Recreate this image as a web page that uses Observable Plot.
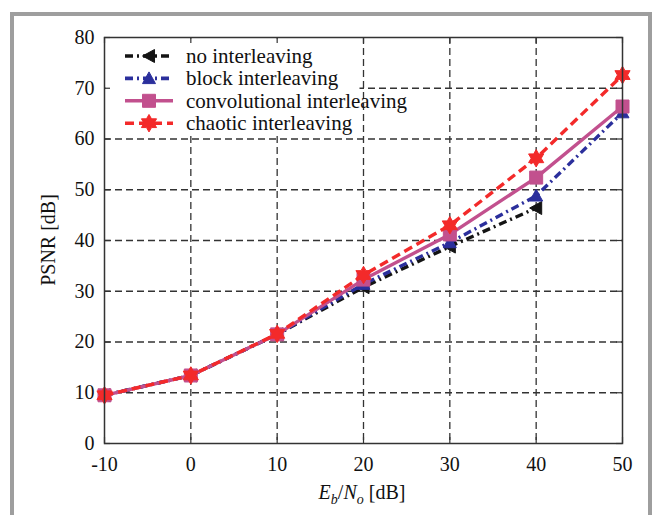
<!DOCTYPE html>
<html><head><meta charset="utf-8">
<script src="https://cdn.jsdelivr.net/npm/d3@7"></script>
<script src="https://cdn.jsdelivr.net/npm/@observablehq/plot@0.6"></script>
<style>
body{margin:0;background:#fff;}
#wrap{position:relative;width:652px;height:515px;overflow:hidden;}
#border{position:absolute;left:10px;top:12px;width:634px;height:520px;border:4px solid #9e9e9e;pointer-events:none;}
svg{display:block;}
</style></head><body><div id="wrap"></div>
<script>
// ---- data ----
const ebno = [-10, 0, 10, 20, 30, 40, 50];
const noInterleaving = [9.5, 13.4, 21.5, 30.8, 38.8, 46.4, null];
const blockInterleaving = [9.5, 13.4, 21.5, 31.4, 39.6, 48.8, 65.2];
const convInterleaving = [9.5, 13.4, 21.5, 32.3, 41.2, 52.4, 66.4];
const chaoticInterleaving = [9.5, 13.4, 21.6, 33.2, 43.0, 56.2, 72.6];
const seriesNames = ["no interleaving", "block interleaving", "convolutional interleaving", "chaotic interleaving"];
const xTicks = [-10, 0, 10, 20, 30, 40, 50];
const yTicks = [0, 10, 20, 30, 40, 50, 60, 70, 80];
const xGrid = [0, 10, 20, 30, 40];
const yGrid = [10, 20, 30, 40, 50, 60, 70];

// ---- styles ----
const FONT = "'Liberation Serif','Times New Roman',serif";
const colors = ["#141414", "#2b2f9c", "#c2508e", "#f32a2a"];
const dashes = ["8,4,2,4", "8,4,2,4", null, "9,5"];
const triLeft = {draw(c, s){const r=Math.sqrt(s/Math.PI); c.moveTo(-r,0); c.lineTo(r*0.85,-r); c.lineTo(r*0.85,r); c.closePath();}};
const triUp = {draw(c, s){const r=Math.sqrt(s/Math.PI); c.moveTo(0,-r); c.lineTo(r,r*0.8); c.lineTo(-r,r*0.8); c.closePath();}};
const square = {draw(c, s){const r=Math.sqrt(s/Math.PI); c.moveTo(-r,-r); c.lineTo(r,-r); c.lineTo(r,r); c.lineTo(-r,r); c.closePath();}};
const hexagram = {draw(c, s){const R=Math.sqrt(s/Math.PI)*1.25; for(let k=0;k<12;k++){const a=-Math.PI/2+k*Math.PI/6; const rr=k%2?R/Math.sqrt(3):R; const px=rr*Math.cos(a), py=rr*Math.sin(a); if(k===0) c.moveTo(px,py); else c.lineTo(px,py);} c.closePath();}};
const symbols = [triLeft, triUp, square, hexagram];
const radii = [6.5, 6.5, 6.5, 7];

const values = [noInterleaving, blockInterleaving, convInterleaving, chaoticInterleaving];
const rows = values.map((vals, si) => ebno.map((x, i) => ({x, y: vals[i], s: si})).filter(d => d.y != null));

function legendBox(index, scales, v, dims) {
  const g = d3.create("svg:g");
  g.append("rect").attr("x", dims.marginLeft + 1.5).attr("y", dims.marginTop + 1.5)
    .attr("width", 254).attr("height", 96).attr("fill", "#fff");
  return g.node();
}
function legend(index, scales, v, dims) {
  const g = d3.create("svg:g").attr("font-family", FONT).attr("font-size", 21).attr("fill", "#111").attr("text-anchor", "start");
  seriesNames.forEach((name, i) => {
    const cy = dims.marginTop + 19 + i * 22.4;
    const x0 = dims.marginLeft + 21, x1 = dims.marginLeft + 69;
    g.append("line").attr("x1", x0).attr("x2", x1).attr("y1", cy).attr("y2", cy)
      .attr("stroke", colors[i]).attr("stroke-width", 3.6).attr("stroke-linecap", "butt").attr("stroke-dasharray", dashes[i]);
    g.append("path").attr("transform", `translate(${(x0+x1)/2},${cy})`)
      .attr("d", d3.symbol(symbols[i], radii[i]*radii[i]*Math.PI)())
      .attr("fill", colors[i]).attr("stroke", colors[i]).attr("stroke-width", 1);
    g.append("text").attr("x", dims.marginLeft + 82).attr("y", cy + 7).attr("text-anchor", "start").text(name);
  });
  return g.node();
}
function axisLabels(index, scales, v, dims) {
  const g = d3.create("svg:g").attr("font-family", FONT).attr("font-size", 20).attr("fill", "#111");
  g.append("text").attr("transform", "translate(55,240) rotate(-90)").attr("text-anchor", "middle").text("PSNR [dB]");
  const t = g.append("text").attr("x", 362).attr("y", 499).attr("text-anchor", "middle");
  t.append("tspan").attr("font-style", "italic").text("E");
  t.append("tspan").attr("font-style", "italic").attr("font-size", 14).attr("dy", 5).text("b");
  t.append("tspan").attr("dy", -5).text("/");
  t.append("tspan").attr("font-style", "italic").text("N");
  t.append("tspan").attr("font-style", "italic").attr("font-size", 14).attr("dy", 5).text("o");
  t.append("tspan").attr("dy", -5).text("\u00a0[dB]");
  return g.node();
}

const gridStyle = {stroke: "#333", strokeWidth: 1.3, strokeDasharray: "7,4"};
const marks = [
  Plot.ruleY(yGrid, {y: d => d, ...gridStyle}),
  Plot.ruleX(xGrid, {x: d => d, ...gridStyle}),
  legendBox,
  Plot.ruleX(xTicks, {x: d => d, insetTop: 400, stroke: "#333", strokeWidth: 1.2}),
  Plot.ruleX(xTicks, {x: d => d, insetBottom: 400, stroke: "#333", strokeWidth: 1.2}),
  Plot.ruleY(yTicks, {y: d => d, insetRight: 512, stroke: "#333", strokeWidth: 1.2}),
  Plot.ruleY(yTicks, {y: d => d, insetLeft: 512, stroke: "#333", strokeWidth: 1.2}),
];
rows.forEach((data, si) => {
  marks.push(Plot.line(data, {x: "x", y: "y", stroke: colors[si], strokeWidth: 3.4, strokeLinecap: "butt", strokeLinejoin: "miter", strokeDasharray: dashes[si]}));
  marks.push(Plot.dot(data, {x: "x", y: "y", r: radii[si], symbol: symbols[si], fill: colors[si], stroke: colors[si], strokeWidth: 1}));
});
marks.push(
  Plot.frame({stroke: "#333", strokeWidth: 1.5}),
  Plot.axisX({ticks: xTicks, tickSize: 0, tickPadding: 13, tickFormat: d => String(d), fontSize: 20, label: null}),
  Plot.axisY({ticks: yTicks, tickSize: 0, tickPadding: 10, tickFormat: d => String(d), fontSize: 20, label: null}),
  legend,
  axisLabels
);

const chart = Plot.plot({
  width: 652, height: 515,
  marginLeft: 104, marginRight: 30, marginTop: 37, marginBottom: 72,
  x: {domain: [-10, 50]},
  y: {domain: [0, 80]},
  style: {fontFamily: FONT, fontSize: "20px", color: "#111", background: "#fff"},
  marks
});
const wrap = document.getElementById("wrap");
wrap.appendChild(chart);
const b = document.createElement("div"); b.id = "border"; wrap.appendChild(b);
</script></body></html>
